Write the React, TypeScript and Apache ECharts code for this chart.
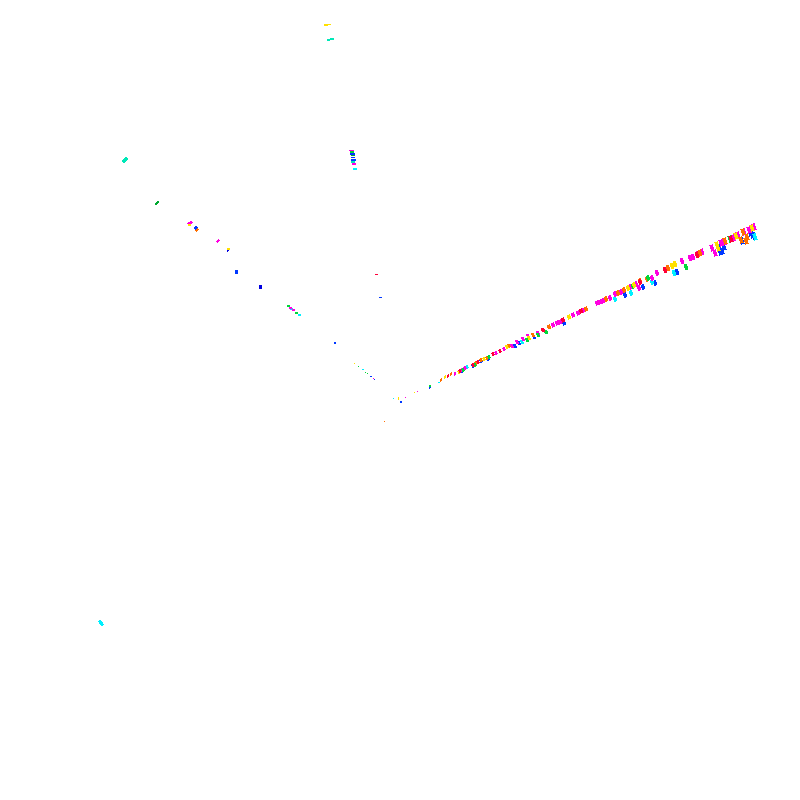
import React, { useEffect, useRef } from "react";
import * as echarts from "echarts";

type P = number[];

const magenta: P[] = [[7.54,2.27],[7.49,2.30],[7.44,2.32],[7.38,2.35],[7.33,2.38],[7.24,2.42],[7.21,2.43],[7.12,2.48],[7.15,2.53],[7.02,2.52],[6.98,2.54],[6.93,2.57],[6.90,2.58],[6.82,2.61],[6.57,2.73],[6.52,2.78],[6.39,2.88],[6.36,2.84],[6.30,2.87],[6.21,2.92],[6.15,2.94],[6.10,2.98],[6.03,3.01],[6.00,3.02],[5.97,3.03],[5.84,3.10],[5.78,3.13],[5.73,3.15],[5.60,3.22],[5.57,3.23],[5.53,3.25],[5.38,3.33],[5.28,3.36],[5.23,3.39],[5.17,3.42],[5.12,3.46],[5.04,3.49],[4.96,3.53],[4.65,3.68],[4.62,3.70],[4.55,3.74],[4.17,3.91,1,1],[4.05,3.97,1,1],[1.90,2.23,5,3,35],[2.18,2.41,4,2,35],[2.90,3.08,3,2],[2.93,3.10,3,2],[3.51,1.50,5,1],[3.54,1.64,4,2],[3.73,3.78,1,1]];
const red: P[] = [[7.31,2.39],[6.97,2.55],[6.65,2.70],[6.40,2.82],[5.81,3.11],[5.63,3.20],[5.43,3.30],[5.00,3.51],[4.93,3.54],[4.78,3.62],[4.73,3.65],[4.60,3.71],[4.48,3.76],[3.76,2.74,3,1]];
const orange: P[] = [[7.47,2.37],[7.43,2.32],[7.41,2.40],[7.46,2.41],[7.25,2.41],[7.00,2.53],[6.68,2.68],[6.47,2.79],[6.40,2.81],[6.24,2.90],[6.18,2.93],[6.06,2.99],[5.86,3.09],[5.49,3.27],[5.33,3.35],[5.09,3.46],[4.87,3.58],[4.81,3.60],[4.76,3.63],[4.51,3.74],[4.41,3.80],[3.84,4.21,1,1],[1.97,2.30,4,2,40],[2.97,3.13,2,2]];
const yellow: P[] = [[7.52,2.28],[7.36,2.36],[7.18,2.48],[7.17,2.45],[6.75,2.64],[6.72,2.66],[6.34,2.85],[6.28,2.88],[5.69,3.17],[5.29,3.38],[5.07,3.47],[4.84,3.59],[4.59,3.72],[4.45,3.77],[4.14,3.92,1,1],[3.98,3.98,1,3],[2.28,2.49,3,2],[3.26,0.25,4,2],[3.29,0.24,3,1],[3.54,3.63,1,1],[1.89,2.25,3,2]];
const lime: P[] = [[7.30,2.39],[6.86,2.67],[6.48,2.78],[6.33,2.86],[5.46,3.32],[5.38,3.35],[5.29,3.38],[5.27,3.40],[4.89,3.57],[4.75,3.65],[4.63,3.70],[4.30,3.86,2,2],[3.58,3.66,1,1],[3.65,3.72,1,1],[3.67,3.73,1,1],[2.88,3.06,3,2],[2.96,3.13,3,2],[3.52,1.52,4,2]];
const darkGreen: P[] = [[1.57,2.03,5,2,40],[3.53,1.55,4,1]];
const cyan: P[] = [[7.55,2.37],[6.74,2.73],[6.52,2.82],[6.31,2.93],[6.15,2.99],[5.22,3.42],[4.67,3.67],[4.39,3.82,2,1],[3.93,3.98,1,1],[2.91,3.09,3,2],[2.99,3.15,3,2],[3.63,3.69,2,1],[3.55,1.69,4,2],[1.01,6.23,6,3,-50]];
const aqua: P[] = [[1.25,1.60,6,3,45],[3.28,0.40,3,2],[3.32,0.39,4,2],[3.53,1.62,4,2]];
const blue: P[] = [[7.52,2.35],[7.50,2.33],[7.54,2.36],[7.42,2.41],[7.22,2.51],[7.20,2.52],[7.19,2.47],[7.24,2.47],[6.77,2.72],[6.55,2.83],[6.43,2.87],[6.25,2.95],[5.64,3.23],[5.34,3.37],[5.19,3.43],[5.15,3.46],[4.88,3.59],[4.81,3.61],[4.73,3.66],[4.62,3.71],[4.30,3.87],[4.01,4.02,2,2],[3.80,2.97,3,1],[3.35,3.43,2,2],[3.71,3.76,2,1],[3.74,3.79,1,1],[1.96,2.28,4,3,40],[2.36,2.72,3,4],[3.52,1.54,5,2],[3.53,1.57,4,1],[3.53,1.60,5,2]];
const navy: P[] = [[2.28,2.50,3,2,35],[2.60,2.87,3,4]];

const seriesColours: [P[], string][] = [
  [blue, "#0038ff"],
  [navy, "#0000e0"],
  [cyan, "#00f0ff"],
  [aqua, "#00e8b8"],
  [darkGreen, "#00a830"],
  [magenta, "#ff00e0"],
  [orange, "#ff7000"],
  [lime, "#00d838"],
  [yellow, "#ffe000"],
  [red, "#ff0038"],
];

const markSize = (v: P): number[] => {
  if (v.length > 2) return [v[2], v[3]];
  const far = v[0] - 4;
  return [Math.min(3.5, 2 + far / 1.2), 2.5 + far * 1.25];
};

export default function App() {
  const ref = useRef<HTMLDivElement>(null);
  useEffect(() => {
    const chart = echarts.init(ref.current!, undefined, { renderer: "svg" });
    const hidden = { type: "value" as const, min: 0, max: 8, show: false };
    chart.setOption({
      animation: false,
      backgroundColor: "#ffffff",
      grid: { left: 0, right: 0, top: 0, bottom: 0 },
      xAxis: hidden,
      yAxis: { ...hidden, inverse: true },
      series: seriesColours.map(([data, color]) => ({
        type: "scatter",
        silent: true,
        symbol: "rect",
        symbolSize: (v: P) => markSize(v),
        symbolRotate: (v: P) => (v.length > 2 ? v[4] ?? 0 : 20),
        itemStyle: { color, opacity: 1 },
        data,
      })),
    });
    return () => chart.dispose();
  }, []);
  return (
    <>
      <style>{"svg path{shape-rendering:crispEdges}"}</style>
      <div ref={ref} style={{ position: "fixed", left: 0, top: 0, width: 800, height: 800 }} />
    </>
  );
}
